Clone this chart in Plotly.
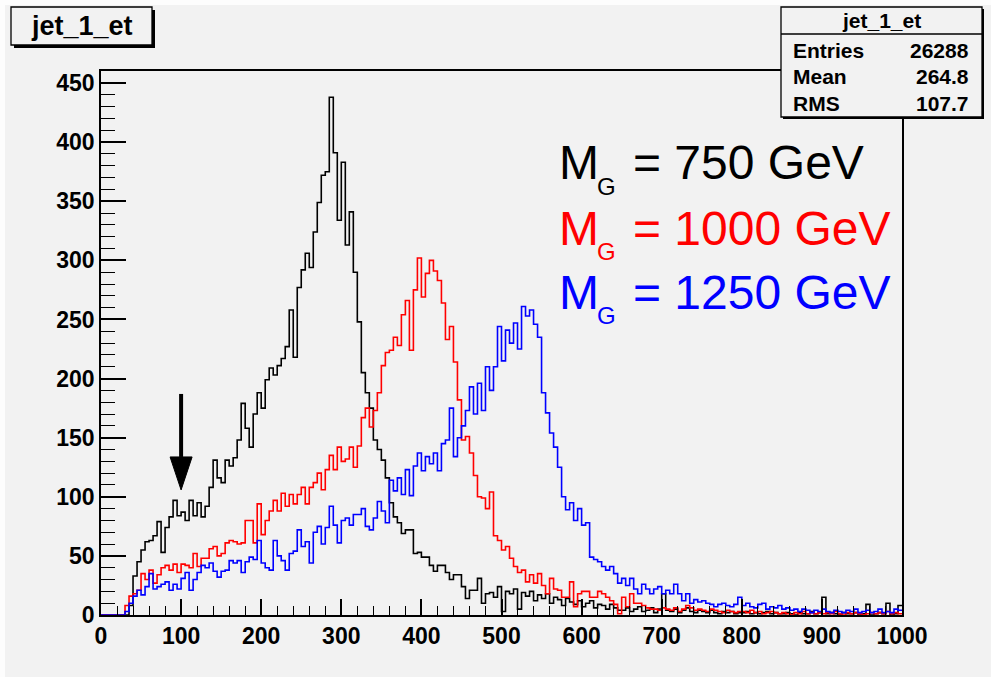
import numpy as np
import plotly.graph_objects as go

# ---------------- data (5 GeV bins, 0..1000) ----------------
bin_width = 5
x_min, x_max = 0, 1000

hist_750 = [
    0, 0, 0, 0, 0, 0, 0, 8, 33, 45,
    55, 62, 63, 67, 79, 53, 74, 83, 97, 84,
    87, 80, 97, 84, 95, 83, 92, 108, 131, 116,
    112, 131, 126, 133, 148, 179, 158, 142, 170, 188,
    175, 199, 209, 203, 211, 217, 227, 258, 218, 277,
    292, 306, 294, 324, 349, 372, 375, 438, 391, 334,
    383, 313, 341, 290, 248, 205, 188, 175, 148, 140,
    131, 116, 95, 83, 78, 69, 72, 72, 52, 53,
    49, 49, 42, 37, 42, 42, 36, 30, 34, 34,
    24, 14, 21, 21, 31, 10, 18, 19, 15, 24,
    3, 20, 18, 22, 5, 19, 16, 20, 12, 17,
    14, 18, 10, 15, 13, 8, 14, 11, 9, 12,
    7, 10, 12, 6, 9, 8, 5, 9, 6, 4,
    4, 6, 3, 5, 7, 3, 4, 6, 2, 5,
    18, 4, 3, 5, 2, 4, 6, 3, 2, 4,
    3, 2, 4, 2, 1, 3, 2, 3, 1, 2,
    2, 3, 1, 2, 1, 2, 3, 1, 2, 1,
    1, 2, 1, 0, 2, 1, 1, 3, 1, 2,
    15, 1, 2, 1, 0, 2, 1, 1, 2, 0,
    1, 9, 0, 1, 2, 1, 10, 0, 1, 8,
]

hist_1000 = [
    0, 0, 0, 0, 0, 0, 8, 16, 18, 21,
    35, 30, 38, 27, 34, 40, 42, 38, 43, 36,
    43, 42, 40, 52, 41, 48, 48, 56, 58, 50,
    52, 61, 63, 62, 60, 61, 80, 80, 61, 94,
    68, 80, 88, 97, 88, 103, 92, 102, 94, 102,
    108, 94, 108, 112, 120, 106, 123, 135, 123, 142,
    130, 132, 142, 125, 143, 167, 175, 159, 173, 188,
    211, 222, 224, 235, 228, 254, 266, 224, 275, 302,
    269, 289, 300, 291, 283, 264, 233, 244, 214, 182,
    148, 151, 137, 118, 100, 99, 90, 104, 67, 63,
    55, 58, 48, 41, 36, 38, 28, 34, 27, 35,
    25, 18, 31, 22, 21, 15, 15, 28, 7, 18,
    20, 20, 15, 15, 20, 18, 15, 12, 9, 1,
    15, 7, 18, 10, 10, 8, 6, 5, 5, 4,
    6, 5, 4, 6, 3, 5, 8, 6, 4, 5,
    4, 3, 5, 4, 3, 2, 4, 3, 2, 3,
    3, 2, 4, 2, 3, 1, 2, 3, 2, 1,
    2, 1, 0, 2, 1, 3, 1, 2, 1, 2,
    1, 2, 1, 3, 1, 0, 2, 1, 2, 1,
    0, 1, 2, 1, 2, 1, 3, 1, 2, 1,
]

hist_1250 = [
    0, 0, 0, 0, 0, 0, 3, 10, 16, 21,
    17, 24, 35, 22, 24, 26, 28, 21, 26, 22,
    31, 36, 21, 30, 36, 42, 40, 44, 37, 32,
    37, 38, 46, 44, 46, 36, 45, 49, 47, 63,
    44, 40, 38, 63, 50, 46, 38, 52, 54, 72,
    58, 62, 44, 70, 75, 60, 74, 92, 76, 61,
    80, 82, 76, 85, 85, 90, 75, 72, 82, 96,
    88, 78, 114, 105, 116, 102, 123, 101, 126, 137,
    122, 134, 128, 137, 122, 145, 148, 175, 134, 150,
    160, 173, 193, 170, 196, 173, 210, 190, 210, 244,
    215, 241, 230, 247, 225, 261, 253, 258, 246, 235,
    188, 171, 154, 142, 125, 100, 89, 95, 80, 90,
    76, 78, 49, 47, 45, 41, 38, 41, 35, 27,
    31, 25, 31, 22, 18, 26, 22, 18, 22, 24,
    18, 21, 18, 26, 18, 12, 18, 10, 13, 11,
    12, 10, 9, 7, 9, 10, 8, 7, 9, 15,
    8, 10, 7, 6, 9, 10, 5, 7, 6, 8,
    5, 6, 4, 5, 3, 5, 4, 2, 4, 3,
    5, 3, 2, 4, 3, 2, 4, 3, 5, 2,
    3, 4, 2, 3, 5, 2, 3, 2, 5, 4,
]

series_names = ["M_G = 750 GeV", "M_G = 1000 GeV", "M_G = 1250 GeV"]
series_colors = ["#000000", "#ff0000", "#0000ff"]
legend_labels = ["750 GeV", "1000 GeV", "1250 GeV"]

stats_title = "jet_1_et"
stats_rows = [("Entries", "26288"), ("Mean", "264.8"), ("RMS", "107.7")]
hist_title = "jet_1_et"

x_ticks = list(range(0, 1001, 100))
y_ticks = list(range(0, 451, 50))
y_max = 460.2

arrow_x = 100
arrow_tip, arrow_head_base, arrow_top = 105.8, 133.7, 187.0

# ---------------- geometry helpers ----------------
W, H = 991, 677
L, R, T, B = 101, 902, 71, 615
BG = "#f2f2f2"
FONT = "Liberation Sans, Arial, Helvetica, sans-serif"


def pxx(x):
    return (x - L) / (R - L)


def pxy(y):
    return (B - y) / (B - T)


fig = go.Figure()

edges = np.arange(x_min, x_max + bin_width, bin_width)
for vals, name, col in zip([hist_750, hist_1000, hist_1250], series_names, series_colors):
    y = list(vals) + [vals[-1]]
    fig.add_trace(go.Scatter(
        x=edges, y=y, mode="lines", line=dict(color=col, width=1.6, shape="hv"),
        name=name, showlegend=False, hoverinfo="skip",
    ))

shapes = []
# white strips at top/left (outside the gray canvas)
shapes.append(dict(type="rect", xref="paper", yref="paper", x0=pxx(-2), x1=pxx(W + 2),
                   y0=pxy(5), y1=pxy(-2), fillcolor="#fdfdfd", line=dict(width=0), layer="above"))
shapes.append(dict(type="rect", xref="paper", yref="paper", x0=pxx(-2), x1=pxx(5),
                   y0=pxy(H + 2), y1=pxy(-2), fillcolor="#fdfdfd", line=dict(width=0), layer="above"))

# title box with shadow
shapes.append(dict(type="rect", xref="paper", yref="paper", x0=pxx(14), x1=pxx(155),
                   y0=pxy(48), y1=pxy(10), fillcolor="black", line=dict(width=0), layer="above"))
shapes.append(dict(type="rect", xref="paper", yref="paper", x0=pxx(11), x1=pxx(152),
                   y0=pxy(45), y1=pxy(7), fillcolor=BG, line=dict(color="black", width=1.3), layer="above"))

# stats box with shadow
shapes.append(dict(type="rect", xref="paper", yref="paper", x0=pxx(783), x1=pxx(984),
                   y0=pxy(119), y1=pxy(9), fillcolor="black", line=dict(width=0), layer="above"))
shapes.append(dict(type="rect", xref="paper", yref="paper", x0=pxx(781), x1=pxx(982),
                   y0=pxy(117), y1=pxy(7), fillcolor=BG, line=dict(color="black", width=1.3), layer="above"))
shapes.append(dict(type="line", xref="paper", yref="paper", x0=pxx(781), x1=pxx(982),
                   y0=pxy(34), y1=pxy(34), line=dict(color="black", width=1.3), layer="above"))

# arrow (shaft + head) in data coordinates
shapes.append(dict(type="line", xref="x", yref="y", x0=arrow_x, x1=arrow_x,
                   y0=arrow_top, y1=arrow_head_base, line=dict(color="black", width=4)))
half_w = 11 / ((R - L) / (x_max - x_min))
shapes.append(dict(type="path", xref="x", yref="y",
                   path=f"M {arrow_x - half_w} {arrow_head_base} L {arrow_x + half_w} {arrow_head_base} "
                        f"L {arrow_x} {arrow_tip} Z",
                   fillcolor="black", line=dict(color="black", width=1)))

annotations = []
annotations.append(dict(xref="paper", yref="paper", x=pxx(81.5), y=pxy(26), text=f"<b>{hist_title}</b>",
                        showarrow=False, xanchor="center", yanchor="middle",
                        font=dict(family=FONT, size=27, color="black")))
annotations.append(dict(xref="paper", yref="paper", x=pxx(881.5), y=pxy(20.5), text=f"<b>{stats_title}</b>",
                        showarrow=False, xanchor="center", yanchor="middle",
                        font=dict(family=FONT, size=21, color="black")))
row_y = [50, 77, 103]
for (lab, val), yy in zip(stats_rows, row_y):
    annotations.append(dict(xref="paper", yref="paper", x=pxx(791), y=pxy(yy), text=f"<b>{lab}</b>",
                            showarrow=False, xanchor="left", yanchor="middle",
                            font=dict(family=FONT, size=21, color="black")))
    annotations.append(dict(xref="paper", yref="paper", x=pxx(971), y=pxy(yy), text=f"<b>{val}</b>",
                            showarrow=False, xanchor="right", yanchor="middle",
                            font=dict(family=FONT, size=21, color="black")))

# legend-like labels: M, subscript G, and "= ... GeV"
leg_y = [163, 228, 292]
for lab, col, yy in zip(legend_labels, series_colors, leg_y):
    annotations.append(dict(xref="paper", yref="paper", x=pxx(557), y=pxy(yy), text="M",
                            showarrow=False, xanchor="left", yanchor="middle",
                            font=dict(family=FONT, size=48, color=col)))
    annotations.append(dict(xref="paper", yref="paper", x=pxx(595), y=pxy(yy + 23), text="G",
                            showarrow=False, xanchor="left", yanchor="middle",
                            font=dict(family=FONT, size=24, color=col)))
    annotations.append(dict(xref="paper", yref="paper", x=pxx(631), y=pxy(yy), text=f"= {lab}",
                            showarrow=False, xanchor="left", yanchor="middle",
                            font=dict(family=FONT, size=48, color=col)))

fig.update_layout(
    width=W, height=H,
    margin=dict(l=L, r=W - R, t=T, b=H - B, pad=0),
    paper_bgcolor=BG, plot_bgcolor=BG,
    shapes=shapes, annotations=annotations,
    showlegend=False,
    xaxis=dict(
        range=[x_min, x_max], tickvals=x_ticks, ticktext=[f"<b>{v}</b>" for v in x_ticks],
        ticks="inside", ticklen=16, tickwidth=1.5, tickcolor="black",
        minor=dict(ticks="inside", ticklen=9, dtick=20, tickwidth=1.3, tickcolor="black"),
        showline=True, linecolor="black", linewidth=1.5, mirror=True,
        showgrid=False, zeroline=False,
        tickfont=dict(family=FONT, size=23, color="black"),
    ),
    yaxis=dict(
        range=[0, y_max], tickvals=y_ticks, ticktext=[f"<b>{v}</b>" for v in y_ticks],
        ticks="inside", ticklen=25, tickwidth=1.5, tickcolor="black",
        minor=dict(ticks="inside", ticklen=14, dtick=10, tickwidth=1.3, tickcolor="black"),
        showline=True, linecolor="black", linewidth=1.5, mirror=True,
        showgrid=False, zeroline=False,
        tickfont=dict(family=FONT, size=23, color="black"),
    ),
)

fig.write_html("out.html")
